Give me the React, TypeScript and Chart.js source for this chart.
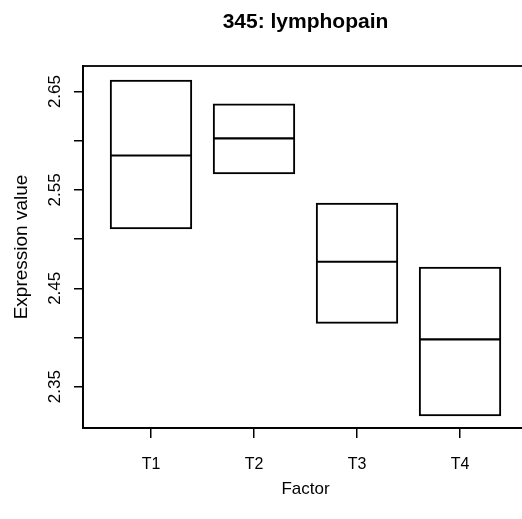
import React, { useEffect, useRef } from "react";
import { Chart, registerables } from "chart.js";

Chart.register(...registerables);

const categories = ["T1", "T2", "T3", "T4"];
const lowerQuartile = [2.51, 2.566, 2.414, 2.32];
const medianValue = [2.585, 2.6025, 2.477, 2.398];
const upperQuartile = [2.662, 2.638, 2.537, 2.472];
const yTickValues = [2.35, 2.4, 2.45, 2.5, 2.55, 2.6, 2.65];
const yTickLabels = ["2.35", "", "2.45", "", "2.55", "", "2.65"];

const FONT = "'Liberation Sans', Arial, Helvetica, sans-serif";

const framePlugin = {
  id: "frame",
  afterDraw(chart: any) {
    const { ctx, chartArea } = chart;
    ctx.save();
    ctx.strokeStyle = "#000";
    ctx.lineWidth = 1.8;
    ctx.strokeRect(chartArea.left, chartArea.top, chartArea.right - chartArea.left, chartArea.bottom - chartArea.top);
    ctx.restore();
  },
};

export default function App() {
  const ref = useRef<HTMLCanvasElement | null>(null);

  useEffect(() => {
    if (!ref.current) return;
    Chart.defaults.font.family = FONT;
    const chart = new Chart(ref.current, {
      type: "bar",
      data: {
        datasets: [
          {
            type: "bar",
            data: categories.map((c, i) => ({ x: i + 1, y: [lowerQuartile[i], upperQuartile[i]] })) as any,
            backgroundColor: "rgba(255,255,255,0)",
            borderColor: "#000",
            borderWidth: 2,
            borderSkipped: false,
            barPercentage: 0.8,
            categoryPercentage: 1,
          } as any,
          {
            type: "line",
            data: categories.map((c, i) => ({ x: i + 1, y: medianValue[i] })) as any,
            showLine: false,
            pointStyle: "line",
            pointRadius: 41,
            pointHoverRadius: 41,
            pointBorderWidth: 2.2,
            borderColor: "#000",
            backgroundColor: "#000",
          } as any,
        ],
      },
      options: {
        responsive: false,
        animation: false,
        devicePixelRatio: 1,
        layout: { autoPadding: false, padding: { left: 0, right: 2, top: 0, bottom: 0 } },
        plugins: {
          legend: { display: false },
          tooltip: { enabled: false },
          title: {
            display: true,
            fullSize: false,
            text: "345: lymphopain",
            color: "#000",
            font: { size: 21, weight: "bold", family: FONT },
            padding: { top: 10, bottom: 30.8 },
          },
        },
        scales: {
          x: {
            type: "linear",
            offset: false,
            min: 0.34,
            max: 4.66,
            afterBuildTicks: (scale: any) => {
              scale.ticks = categories.map((c, i) => ({ value: i + 1 }));
            },
            afterFit: (scale: any) => {
              scale.height = 91;
            },
            ticks: {
              color: "#000",
              font: { size: 16, family: FONT },
              padding: 17,
              autoSkip: false,
              maxRotation: 0,
              callback: (v: any) => categories[Math.round(v) - 1] ?? "",
            },
            grid: { offset: false, drawOnChartArea: false, drawTicks: true, tickLength: 10, color: "#000", lineWidth: 1.5 },
            border: { display: true, color: "#000", width: 1.8 },
            title: {
              display: true,
              text: "Factor",
              color: "#000",
              font: { size: 17, family: FONT },
              padding: { top: 0, bottom: 19 },
            },
          },
          y: {
            type: "linear",
            min: 2.308,
            max: 2.676,
            afterBuildTicks: (scale: any) => {
              scale.ticks = yTickValues.map((v) => ({ value: v }));
            },
            afterFit: (scale: any) => {
              scale.width = 83;
            },
            ticks: {
              color: "#000",
              font: { size: 17, family: FONT },
              padding: 2,
              autoSkip: false,
              minRotation: 90,
              maxRotation: 90,
              crossAlign: "center",
              callback: (v: any, idx: number) => yTickLabels[idx] ?? "",
            },
            grid: { drawOnChartArea: false, drawTicks: true, tickLength: 9, color: "#000", lineWidth: 1.5 },
            border: { display: true, color: "#000", width: 1.8 },
            title: {
              display: true,
              text: "Expression value",
              color: "#000",
              font: { size: 19, family: FONT },
              padding: { top: 10, bottom: 0 },
            },
          },
        },
      },
      plugins: [framePlugin],
    } as any);
    return () => chart.destroy();
  }, []);

  return (
    <div style={{ position: "fixed", left: 0, top: 0, width: 522, height: 519, overflow: "hidden", background: "#fff" }}>
      <canvas ref={ref} width={530} height={519} style={{ display: "block", width: 530, height: 519 }} />
    </div>
  );
}
